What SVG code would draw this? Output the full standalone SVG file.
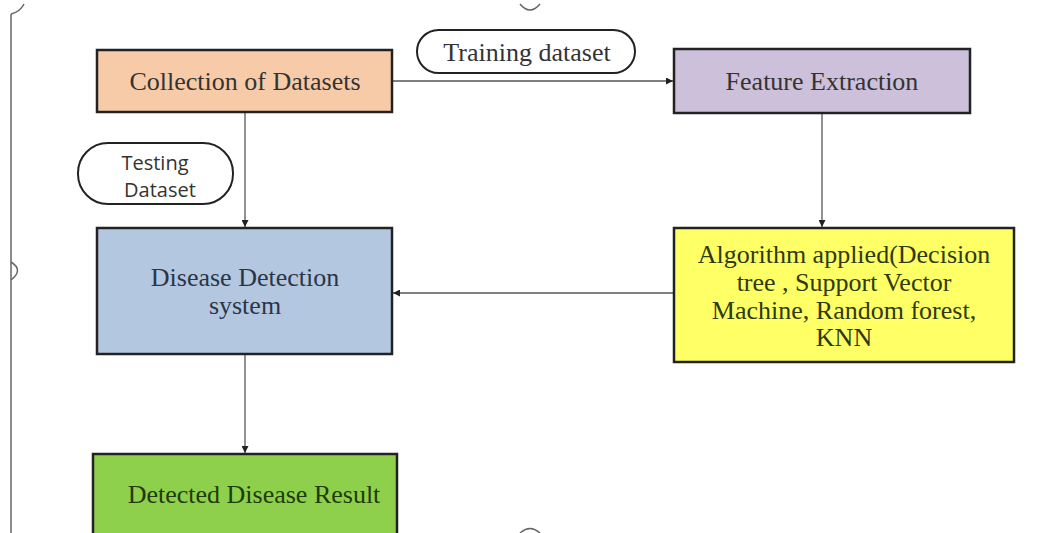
<svg xmlns="http://www.w3.org/2000/svg" width="1037" height="533" viewBox="0 0 1037 533">
<defs>
<marker id="ah" viewBox="0 0 10 10" refX="10" refY="5" markerWidth="7" markerHeight="7" markerUnits="userSpaceOnUse" orient="auto">
<path d="M0,0 L10,5 L0,10 z" fill="#222"/>
</marker>
</defs>
<style>
.box{stroke:#222;stroke-width:2.5}
.pill{fill:#fff;stroke:#222;stroke-width:2}
.t{font-family:"Liberation Serif","Times New Roman",serif;font-size:26px;fill:#333;text-anchor:middle}
.s{font-family:"Open Sans","Liberation Sans",sans-serif;font-size:20px;fill:#333;text-anchor:middle}
.c{stroke:#555;stroke-width:1.3;fill:none;marker-end:url(#ah)}
.frame{stroke:#666;stroke-width:1.5;fill:none}
</style>
<rect width="1037" height="533" fill="#fff"/>
<g id="frame">
<line class="frame" x1="11" y1="14" x2="11" y2="533"/>
<path class="frame" d="M11,14 Q20,12 24,4"/>
<path class="frame" d="M520,4 Q530,16 540,4"/>
<path class="frame" d="M11,262 Q24,270 11,280"/>
<path class="frame" d="M520,533 Q530,524 540,533"/>
</g>
<g id="connectors">
<line class="c" x1="392" y1="81" x2="673" y2="81"/>
<line class="c" x1="245" y1="112" x2="245" y2="227"/>
<line class="c" x1="822" y1="113" x2="822" y2="227"/>
<line class="c" x1="674" y1="293" x2="393" y2="293"/>
<line class="c" x1="245" y1="354" x2="245" y2="453"/>
</g>
<g id="training">
<rect class="pill" x="417" y="30" width="218" height="43" rx="21.5"/>
<text class="t" x="527" y="61">Training dataset</text>
</g>
<g id="testing">
<rect class="pill" x="78" y="143" width="155" height="61" rx="30"/>
<text class="s" x="155" y="170">Testing</text>
<text class="s" x="160" y="197">Dataset</text>
</g>
<g id="collection">
<rect class="box" x="97" y="50" width="295" height="62" fill="#f8cba8"/>
<text class="t" x="245" y="90">Collection of Datasets</text>
</g>
<g id="feature">
<rect class="box" x="674" y="49" width="296" height="64" fill="#ccc0da"/>
<text class="t" x="822" y="90">Feature Extraction</text>
</g>
<g id="algorithm">
<rect class="box" x="674" y="228" width="340" height="134" fill="#ffff66"/>
<text class="t" x="844" y="263" style="fill:#2e3a10">Algorithm applied(Decision</text>
<text class="t" x="844" y="291" style="fill:#2e3a10">tree , Support Vector</text>
<text class="t" x="844" y="319" style="fill:#2e3a10">Machine, Random forest,</text>
<text class="t" x="844" y="346" style="fill:#2e3a10">KNN</text>
</g>
<g id="disease">
<rect class="box" x="97" y="228" width="295" height="126" fill="#b4c7e0"/>
<text class="t" x="245" y="286" style="fill:#2b3545">Disease Detection</text>
<text class="t" x="245" y="314" style="fill:#2b3545">system</text>
</g>
<g id="detected">
<rect class="box" x="93" y="454" width="304" height="86" fill="#8ed04b"/>
<text class="t" x="254" y="503" style="fill:#1f3a0a">Detected Disease Result</text>
</g>
</svg>
